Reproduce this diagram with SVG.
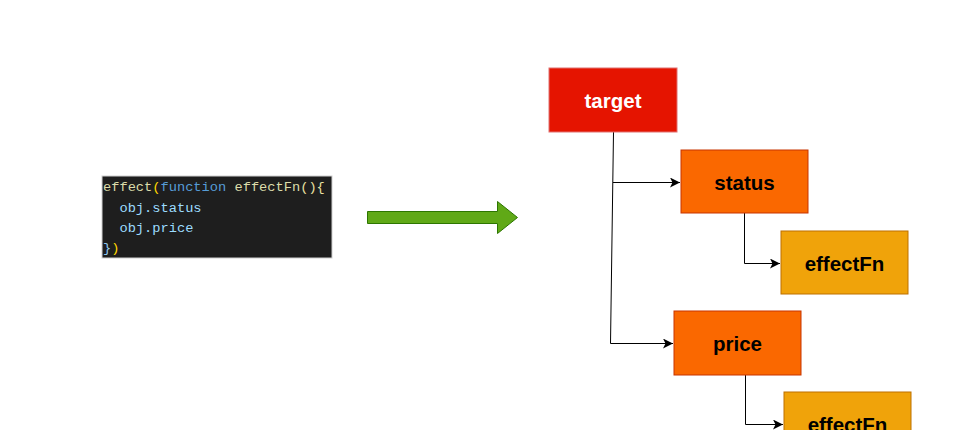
<svg xmlns="http://www.w3.org/2000/svg" width="970" height="430" viewBox="0 0 970 430">
<style>
.box{stroke-width:1}
.lbl{font-family:"Liberation Sans",Arial,sans-serif;font-weight:bold;font-size:20.5px;text-anchor:middle;dominant-baseline:central}
.code{font-family:"Liberation Mono","DejaVu Sans Mono",monospace;font-size:13.7px}
.conn{fill:none;stroke:#000;stroke-width:1}
</style>
<defs>
<marker id="ah" viewBox="0 0 10 10" refX="10" refY="5" markerWidth="10" markerHeight="10" markerUnits="userSpaceOnUse" orient="auto">
<path d="M0,0 L10,5 L0,10 L2.5,5 Z" fill="#000"/>
</marker>
</defs>
<rect width="970" height="430" fill="#fff"/>
<g id="code">
<rect x="102" y="176" width="230" height="82" fill="#1e1e1e" stroke="#cfcfcf" stroke-width="1"/>
<text class="code" x="103" y="191"><tspan fill="#dcdcaa">effect</tspan><tspan fill="#ffd700">(</tspan><tspan fill="#569cd6">function</tspan><tspan fill="#d4d4d4"> </tspan><tspan fill="#dcdcaa">effectFn</tspan><tspan fill="#e8e0a0">(){</tspan></text>
<text class="code" x="103" y="212" fill="#9cdcfe" xml:space="preserve">  obj.status</text>
<text class="code" x="103" y="232" fill="#9cdcfe" xml:space="preserve">  obj.price</text>
<text class="code" x="103" y="252"><tspan fill="#8fc8f0">}</tspan><tspan fill="#ffd700">)</tspan></text>
</g>
<g id="bigarrow">
<path d="M367.5,211.5 L497.5,211.5 L497.5,201.5 L517.5,217.5 L497.5,233.5 L497.5,223.5 L367.5,223.5 Z" fill="#60a917" stroke="#2d7600" stroke-width="1"/>
</g>
<g id="connectors">
<path class="conn" d="M613.5,132 L610.5,343.5 L673,343.5" marker-end="url(#ah)"/>
<path class="conn" d="M613,182.5 L680,182.5" marker-end="url(#ah)"/>
<path class="conn" d="M744.5,213 L744.5,263.5 L780,263.5" marker-end="url(#ah)"/>
<path class="conn" d="M745.5,375 L745.5,424.5 L783,424.5" marker-end="url(#ah)"/>
</g>
<g id="target">
<rect class="box" x="549" y="68" width="128" height="64" fill="#e51400" stroke="#e07070"/>
<text class="lbl" x="613" y="100" fill="#fff">target</text>
</g>
<g id="status">
<rect class="box" x="681" y="150" width="127" height="63" fill="#fa6800" stroke="#c73500"/>
<text class="lbl" x="744.5" y="182" fill="#000">status</text>
</g>
<g id="effectFn1">
<rect class="box" x="781" y="231" width="127" height="63" fill="#f0a30a" stroke="#bd7000"/>
<text class="lbl" x="844.5" y="263" fill="#000">effectFn</text>
</g>
<g id="price">
<rect class="box" x="674" y="311" width="127" height="64" fill="#fa6800" stroke="#c73500"/>
<text class="lbl" x="737.5" y="343" fill="#000">price</text>
</g>
<g id="effectFn2">
<rect class="box" x="784" y="392" width="127" height="63" fill="#f0a30a" stroke="#bd7000"/>
<text class="lbl" x="847.5" y="424" fill="#000">effectFn</text>
</g>
</svg>
